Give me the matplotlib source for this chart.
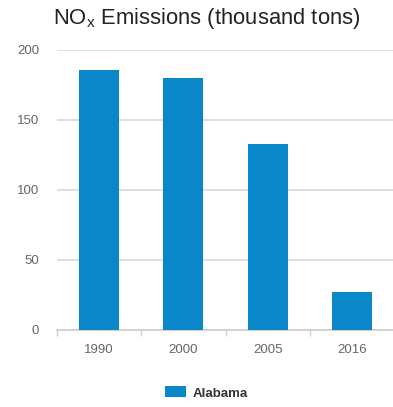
import matplotlib
matplotlib.use("Agg")
import matplotlib.pyplot as plt
from matplotlib.ticker import FixedLocator

plt.rcParams['font.family'] = ['Liberation Sans', 'DejaVu Sans']
plt.rcParams['mathtext.fontset'] = 'custom'
plt.rcParams['mathtext.rm'] = 'Liberation Sans'

years = ["1990", "2000", "2005", "2016"]
nox_alabama = [186, 180, 133, 27]
y_ticks = [0, 50, 100, 150, 200]

W, H = 393, 407
fig = plt.figure(figsize=(W / 100, H / 100), dpi=100)
ax = fig.add_axes([57 / W, 77 / H, 337 / W, 280 / H])

bar_color = "#0a87c8"
x = list(range(len(years)))
ax.bar(x, nox_alabama, width=0.475, color=bar_color, label="Alabama", zorder=3)

ax.set_xlim(-0.5, len(years) - 0.5)
ax.set_ylim(0, 200)

ax.set_yticks(y_ticks)
ax.yaxis.grid(True, color="#d9d9d9", linewidth=1.2, zorder=0)
ax.tick_params(axis="y", length=0, pad=13, labelsize=9.5, labelcolor="#666666")

ax.set_xticks(x)
ax.set_xticklabels(years)
ax.xaxis.set_minor_locator(FixedLocator([i - 0.5 for i in range(len(years) + 1)]))
ax.tick_params(axis="x", which="major", length=0, pad=10, labelsize=9.5, labelcolor="#666666")
ax.tick_params(axis="x", which="minor", length=4, width=1, color="#cccccc")

for side in ("left", "right", "top"):
    ax.spines[side].set_visible(False)
ax.spines["bottom"].set_color("#cccccc")
ax.spines["bottom"].set_linewidth(1.2)
ax.set_axisbelow(True)

fig.text(53 / W, 1 - 24 / H, r"NO$_\mathregular{x}$ Emissions (thousand tons)",
         fontsize=15.8, color="#222222", ha="left", va="baseline")

leg = ax.legend(loc="center", bbox_to_anchor=(206 / W, 1 - 393 / H),
                bbox_transform=fig.transFigure, frameon=False,
                handlelength=1.6, handleheight=0.9, handletextpad=0.5,
                prop={"size": 9.5, "weight": "bold"})
for t in leg.get_texts():
    t.set_color("#333333")

fig.savefig("out.png", dpi=100)
